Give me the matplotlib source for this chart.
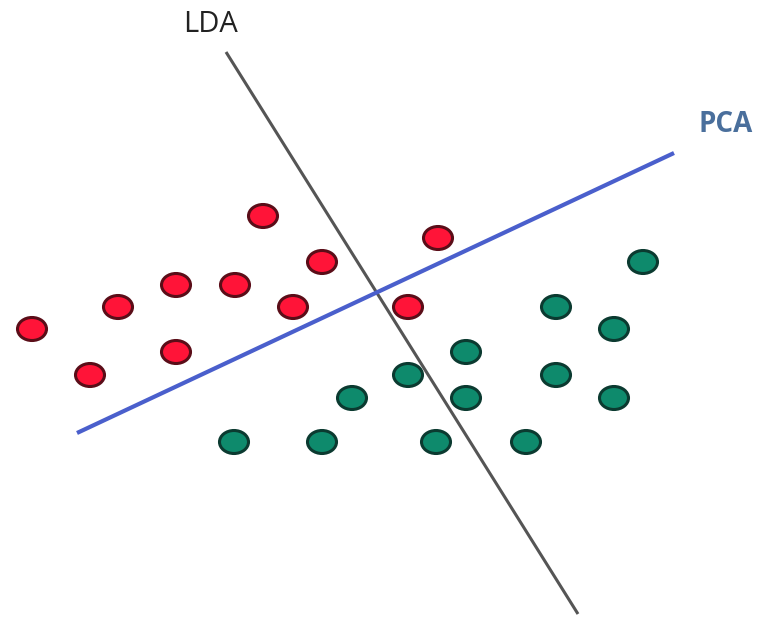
import matplotlib
matplotlib.use("Agg")
import matplotlib.pyplot as plt
from matplotlib.patches import Ellipse

# class A (red) and class B (green) points, in image pixel units
red_x = [263, 438, 322, 176, 235, 118, 293, 408, 32, 176, 90]
red_y = [216, 238, 262, 285, 285, 307, 307, 307, 329, 352, 375]
green_x = [643, 556, 614, 466, 408, 556, 352, 466, 614, 234, 322, 436, 526]
green_y = [262, 307, 329, 352, 375, 375, 398, 398, 398, 442, 442, 442, 442]

# projection axes
lda_x = [226, 578]
lda_y = [52, 614]
pca_x = [77, 674]
pca_y = [433, 153]

fig = plt.figure(figsize=(7.75, 6.2), dpi=100)
ax = fig.add_axes([0, 0, 1, 1])
ax.set_xlim(0, 775)
ax.set_ylim(620, 0)
ax.axis("off")

ax.plot(lda_x, lda_y, color="#555555", lw=2.2, solid_capstyle="butt", zorder=1)
ax.plot(pca_x, pca_y, color="#4a5fcc", lw=3.0, solid_capstyle="butt", zorder=3)

def dots(xs, ys, face, edge):
    for x, y in zip(xs, ys):
        ax.add_patch(Ellipse((x, y), 29, 23, facecolor=face, edgecolor=edge,
                             lw=2.2, zorder=2))

dots(red_x, red_y, "#ff1438", "#5a0d18")
dots(green_x, green_y, "#0e8a6c", "#0b3a30")

ax.text(211, 24, "LDA", fontsize=21, family="Open Sans", color="#222222",
        ha="center", va="center")
ax.text(726, 124, "PCA", fontsize=20, family="Open Sans", fontweight="bold",
        color="#4a6f9c", ha="center", va="center")

fig.savefig("out.png", dpi=100)
